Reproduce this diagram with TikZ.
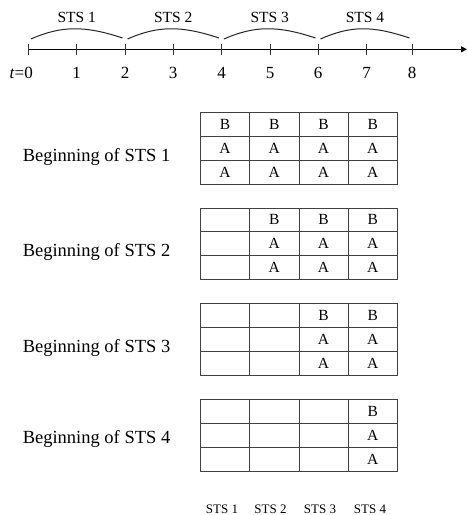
\documentclass[tikz,border=0pt]{standalone}
\usepackage{fontspec}
\setmainfont{Liberation Serif}
\usetikzlibrary{arrows.meta}
\tikzset{
  cell/.style={draw=black!75, line width=0.8pt, minimum width=49.25pt, minimum height=23.85pt, inner sep=0pt, anchor=north west, font=\fontsize{15.5}{15.5}\selectfont},
  rowlabel/.style={anchor=base, inner sep=0pt, font=\fontsize{18.5}{19}\selectfont},
  ticklabel/.style={anchor=base, inner sep=0pt, font=\fontsize{17}{17}\selectfont},
  stslabel/.style={anchor=base, inner sep=0pt, font=\fontsize{15.5}{15.5}\selectfont},
  collabel/.style={anchor=base, inner sep=0pt, font=\fontsize{13}{13}\selectfont},
  tickline/.style={line width=0.8pt, draw=black!80},
  arcline/.style={line width=1pt, draw=black!85},
  axisline/.style={line width=1.2pt, -{Triangle[length=6pt,width=6pt]}}
}
\begin{document}
\begin{tikzpicture}[x=1pt,y=-1pt]
\useasboundingbox (0,0) rectangle (467,515);
% timeline
\coordinate (axstart) at (28.5,49.3);
\coordinate (axend) at (467,49.3);
\draw[axisline] (axstart) -- (axend);
\foreach \i/\x in {0/28.5,1/76.7,2/125,3/173,4/221.5,5/270,6/318,7/366.5,8/412} {
  \coordinate (tt\i) at (\x,44);
  \coordinate (tb\i) at (\x,55);
  \draw[tickline] (tt\i) -- (tb\i);
}
\node[ticklabel] (lab0) at (28.5,78) {\llap{\textit{t}=}0};
\foreach \i/\x in {1/76.7,2/125,3/173,4/221.5,5/270,6/318,7/366.5,8/412} {
  \node[ticklabel] (lab\i) at (\x,78) {\i};
}
% arcs
\foreach \k/\a/\b in {1/28.5/125,2/125/221.5,3/221.5/318,4/318/412} {
  \coordinate (as\k) at ({\a+2.5},39);
  \coordinate (ae\k) at ({\b-2.5},38);
  \draw[arcline] (as\k) .. controls ({\a+33},25.5) and ({\b-40},25.5) .. (ae\k);
  \node[stslabel] (sts\k) at ({(\a+\b)/2},22.5) {STS \k};
}
% tables
\foreach \k/\top/\lb in {1/112/161,2/207.5/256.5,3/303.3/352.5,4/399/443.5} {
  \foreach \c in {1,2,3,4} {
    \pgfmathsetmacro{\cx}{200+(\c-1)*49.25}
    \ifnum\c<\k
      \node[cell] (t\k r1c\c) at (\cx,\top) {};
      \node[cell] (t\k r2c\c) at (\cx,\top+23.85) {};
      \node[cell] (t\k r3c\c) at (\cx,\top+47.7) {};
    \else
      \node[cell] (t\k r1c\c) at (\cx,\top) {B};
      \node[cell] (t\k r2c\c) at (\cx,\top+23.85) {A};
      \node[cell] (t\k r3c\c) at (\cx,\top+47.7) {A};
    \fi
  }
  \node[rowlabel] (beg\k) at (96.5,\lb) {Beginning of STS \k};
}
% bottom column labels
\foreach \k/\x in {1/222,2/270.5,3/320,4/370} {
  \node[collabel] (col\k) at (\x,513) {STS \k};
}
\end{tikzpicture}
\end{document}
